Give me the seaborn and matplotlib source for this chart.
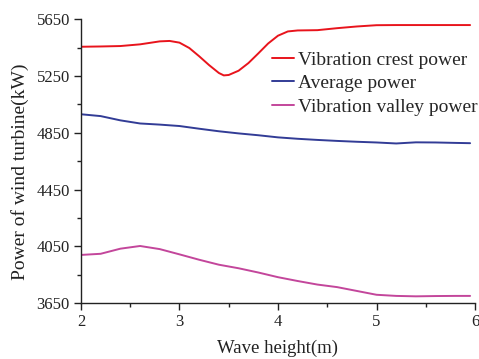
import matplotlib
matplotlib.use("Agg")
import matplotlib.pyplot as plt
from matplotlib.ticker import MultipleLocator
import pandas as pd
import seaborn as sns

# Wave height samples (m)
crest_height = [2.0, 2.2, 2.4, 2.6, 2.8, 2.9, 3.0, 3.1, 3.2, 3.3, 3.4, 3.45, 3.5,
                 3.6, 3.7, 3.8, 3.9, 4.0, 4.1, 4.2, 4.4, 4.6, 4.8, 5.0, 5.2, 5.4,
                 5.6, 5.8, 5.95]
crest_power = [5457, 5459, 5462, 5474, 5495, 5498, 5486, 5448, 5390, 5328, 5272,
               5255, 5258, 5288, 5342, 5410, 5480, 5535, 5565, 5572, 5574, 5588,
               5600, 5609, 5610, 5610, 5610, 5610, 5610]

wave_height = [2.0, 2.2, 2.4, 2.6, 2.8, 3.0, 3.2, 3.4, 3.6, 3.8, 4.0, 4.2, 4.4,
               4.6, 4.8, 5.0, 5.2, 5.4, 5.6, 5.8, 5.95]
average_power = [4981, 4968, 4938, 4916, 4908, 4898, 4879, 4861, 4846, 4833, 4818,
                 4808, 4800, 4793, 4787, 4782, 4775, 4783, 4782, 4779, 4777]
valley_power = [3989, 3997, 4033, 4052, 4030, 3993, 3955, 3920, 3895, 3865, 3832,
                3805, 3780, 3762, 3735, 3708, 3700, 3697, 3699, 3700, 3700]

series_names = ["Vibration crest power", "Average power", "Vibration valley power"]
series_colors = ["#e8141c", "#323c96", "#c3469b"]

y_ticks = [3650, 4050, 4450, 4850, 5250, 5650]

df = pd.concat([
    pd.DataFrame({"h": crest_height, "p": crest_power, "s": series_names[0]}),
    pd.DataFrame({"h": wave_height, "p": average_power, "s": series_names[1]}),
    pd.DataFrame({"h": wave_height, "p": valley_power, "s": series_names[2]}),
])

sns.set_theme(style="ticks")
plt.rcParams["font.family"] = ["Liberation Serif", "DejaVu Serif"]

fig = plt.figure(figsize=(4.79, 3.59), dpi=100)
ax = fig.add_axes([0.169, 0.156, 0.8227, 0.79])

sns.lineplot(data=df, x="h", y="p", hue="s", hue_order=series_names,
             palette=series_colors, linewidth=1.4, ax=ax, sort=False)

ax.set_xlim(2, 6)
ax.set_ylim(3650, 5650)
ax.xaxis.set_major_locator(MultipleLocator(1))
ax.xaxis.set_minor_locator(MultipleLocator(0.5))
ax.set_yticks(y_ticks)
ax.set_yticks([(a + b) / 2 for a, b in zip(y_ticks[:-1], y_ticks[1:])], minor=True)

for side in ["top", "right"]:
    ax.spines[side].set_visible(False)
for side in ["left", "bottom"]:
    ax.spines[side].set_linewidth(1.0)
    ax.spines[side].set_color("#222222")

ax.tick_params(axis="both", which="major", direction="out", length=5, width=1,
               labelsize=12, color="#222222", labelcolor="#222222", pad=3)
ax.tick_params(axis="both", which="minor", direction="out", length=3, width=1,
               color="#222222")

ax.set_xlabel("Wave height(m)", fontsize=13.5, color="#222222", labelpad=7)
ax.set_ylabel("Power of wind turbine(kW)", fontsize=14, color="#222222")
ax.yaxis.set_label_coords(-0.132, 0.464)

ax.legend(title=None, frameon=False, fontsize=14, loc="upper left",
          bbox_to_anchor=(272 / 479, 1 - 51 / 359), bbox_transform=fig.transFigure,
          handlelength=1.15, handletextpad=0.2, labelspacing=0.3,
          borderaxespad=0, borderpad=0)

fig.savefig("out.png", dpi=100)
